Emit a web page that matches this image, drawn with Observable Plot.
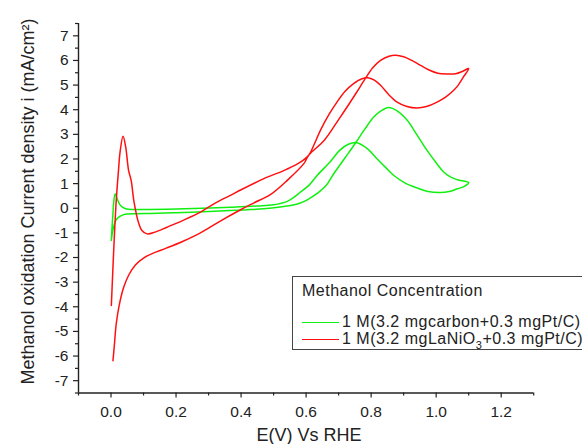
<!DOCTYPE html>
<html>
<head>
<meta charset="utf-8">
<script src="https://cdn.jsdelivr.net/npm/d3@7"></script>
<script src="https://cdn.jsdelivr.net/npm/@observablehq/plot@0.6"></script>
<style>
  html, body { margin: 0; padding: 0; background: #fff; overflow: hidden; }
  #wrap { position: relative; width: 582px; height: 444px; overflow: hidden; font-family: 'Liberation Sans', Arial, sans-serif; color: #222; }
  #legend { position: absolute; left: 292px; top: 276px; width: 330px; height: 72px; border: 1px solid #444; background: #fff; font-size: 16px; letter-spacing: 0.5px; }
  #legend .row { position: absolute; left: 9px; white-space: nowrap; line-height: 16px; }
  #legend .sw { display: inline-block; width: 37px; height: 0; vertical-align: 4px; margin-right: 3px; }
  #legend sub { font-size: 11px; vertical-align: -5px; line-height: 0; }
</style>
</head>
<body>
<div id="wrap">
  <div id="chart"></div>
  <div id="legend"></div>
</div>
<script>
// Series names
const seriesNames = ["1 M(3.2 mgcarbon+0.3 mgPt/C)", "1 M(3.2 mgLaNiO3+0.3 mgPt/C)"];
const seriesColors = ["#10f010", "#ff1010"];
const legendTitle = "Methanol Concentration";
const xTitle = "E(V) Vs RHE";
const yTitle = "Methanol oxidation Current density i (mA/cm²)";

// Green (carbon) loop: potential E (V) and current density I (mA/cm2), in scan order
const E_green = [0.001,0.008,0.018,0.039,0.08,0.121,0.2,0.3,0.367,0.42,0.47,0.52,0.555,0.58,0.605,0.634,0.66,0.685,0.72,0.752,0.78,0.808,0.83,0.854,0.88,0.911,0.94,0.972,1.0,1.023,1.045,1.065,1.10,
  1.085,1.065,1.04,1.013,0.975,0.942,0.905,0.87,0.845,0.818,0.79,0.757,0.73,0.703,0.675,0.635,0.61,0.582,0.56,0.542,0.5,0.45,0.367,0.28,0.2,0.12,0.07,0.045,0.029,0.02,0.013,0.008,0.006,0.003,0.001];
const I_green = [-1.31,-0.75,-0.43,-0.26,-0.22,-0.21,-0.18,-0.13,-0.09,-0.06,-0.02,0.05,0.12,0.2,0.35,0.6,0.9,1.40,2.05,2.65,3.2,3.70,3.95,4.09,3.95,3.57,3.0,2.35,1.85,1.47,1.26,1.16,1.04,
  0.88,0.79,0.68,0.64,0.68,0.82,1.02,1.33,1.65,2.01,2.4,2.66,2.6,2.35,1.9,1.35,0.95,0.65,0.42,0.28,0.14,0.09,0.04,0.0,-0.03,-0.05,-0.05,-0.02,0.11,0.35,0.59,0.2,-0.22,-0.8,-1.31];

// Red (LaNiO3) scan
const E_red = [0.006,0.010,0.016,0.025,0.039,0.055,0.075,0.10,0.13,0.17,0.22,0.275,0.336,0.40,0.44,0.49,0.542,0.593,0.608,0.656,0.70,0.726,0.755,0.782,0.805,0.829,0.855,0.875,0.90,0.925,0.952,0.98,1.005,1.034,1.06,1.08,1.10,
  1.085,1.068,1.054,1.03,1.003,0.97,0.942,0.91,0.88,0.855,0.829,0.81,0.793,0.77,0.746,0.72,0.695,0.67,0.644,0.625,0.608,0.58,0.54,0.47,0.40,0.367,0.336,0.30,0.275,0.22,0.172,0.135,0.111,0.095,0.085,0.08,0.07,0.062,0.054,0.045,0.037,0.028,0.023,0.016,0.009,0.005,0.001];
const I_red = [-6.19,-5.6,-4.7,-3.95,-3.21,-2.7,-2.3,-2.02,-1.82,-1.62,-1.35,-1.0,-0.52,-0.05,0.22,0.55,1.13,1.81,2.15,2.76,3.6,4.11,4.7,5.26,5.7,6.0,6.17,6.21,6.15,6.0,5.80,5.6,5.48,5.45,5.46,5.55,5.67,
  5.35,5.0,4.79,4.52,4.31,4.13,4.07,4.13,4.31,4.6,4.99,5.2,5.29,5.25,5.06,4.75,4.31,3.8,3.16,2.6,2.15,1.85,1.58,1.2,0.75,0.52,0.32,0.05,-0.16,-0.5,-0.77,-0.97,-1.04,-0.90,-0.6,-0.36,0.32,1.13,1.54,2.5,2.92,2.3,1.54,0.3,-1.5,-2.7,-3.95];

// Ticks
const xMajor = [0, 0.2, 0.4, 0.6, 0.8, 1.0, 1.2];
const xMinor = [-0.1, 0.1, 0.3, 0.5, 0.7, 0.9, 1.1, 1.3];
const yMajor = [-7, -6, -5, -4, -3, -2, -1, 0, 1, 2, 3, 4, 5, 6, 7];
const yMinor = [-7.5, -6.5, -5.5, -4.5, -3.5, -2.5, -1.5, -0.5, 0.5, 1.5, 2.5, 3.5, 4.5, 5.5, 6.5, 7.5];
const xDomain = [-0.1, 1.3];
const yDomain = [-7.5, 7.5];

const green = E_green.map((e, i) => ({E: e, I: I_green[i]}));
const red = E_red.map((e, i) => ({E: e, I: I_red[i]}));

const axisColor = "#222";
const plot = Plot.plot({
  width: 582,
  height: 444,
  marginLeft: 78,
  marginRight: 48.8,
  marginTop: 23,
  marginBottom: 51.5,
  x: {domain: xDomain, label: null},
  y: {domain: yDomain, label: null},
  style: {fontFamily: "'Liberation Sans', Arial, sans-serif", background: "white", color: axisColor, overflow: "visible"},
  marks: [
    Plot.line(green, {x: "E", y: "I", stroke: seriesColors[0], strokeWidth: 1.5, curve: "catmull-rom"}),
    Plot.line(red, {x: "E", y: "I", stroke: seriesColors[1], strokeWidth: 1.5, curve: "catmull-rom"}),
    Plot.ruleX([xDomain[0]], {stroke: axisColor, strokeWidth: 1.4}),
    Plot.ruleY([yDomain[0]], {stroke: axisColor, strokeWidth: 1.4}),
    Plot.axisX({ticks: xMajor, tickSize: 5, tickPadding: 7.5, tickFormat: d3.format(".1f"), fontSize: 15.5, label: null, stroke: axisColor, strokeWidth: 1.2}),
    Plot.axisX({ticks: xMinor, tickSize: 3, tickFormat: () => "", label: null, stroke: axisColor, strokeWidth: 1.2}),
    Plot.axisY({ticks: yMajor, tickSize: 5, tickPadding: 5, tickFormat: d => String(d), fontSize: 15.5, label: null, stroke: axisColor, strokeWidth: 1.2}),
    Plot.axisY({ticks: yMinor, tickSize: 3, tickFormat: () => "", label: null, stroke: axisColor, strokeWidth: 1.2}),
    Plot.text([xTitle], {frameAnchor: "bottom", text: d => d, textAnchor: "middle", dx: 3, dy: 47.5, lineAnchor: "bottom", fontSize: 18, fill: axisColor}),
    Plot.text([yTitle], {frameAnchor: "left", text: d => d, textAnchor: "middle", rotate: -90, dx: -44.5, dy: -6.75, lineAnchor: "bottom", fontSize: 18, fill: axisColor})
  ]
});
document.getElementById("chart").appendChild(plot);

// Legend
const legend = document.getElementById("legend");
const title = document.createElement("div");
title.className = "row";
title.style.top = "6px";
title.textContent = legendTitle;
legend.appendChild(title);
const labelsHtml = [seriesNames[0], seriesNames[1].replace("LaNiO3", "LaNiO<sub>3</sub>")];
[37, 54].forEach((top, i) => {
  const row = document.createElement("div");
  row.className = "row";
  row.style.top = top + "px";
  const sw = document.createElement("span");
  sw.className = "sw";
  sw.style.borderTop = "1.5px solid " + seriesColors[i];
  row.appendChild(sw);
  const t = document.createElement("span");
  t.innerHTML = labelsHtml[i];
  row.appendChild(t);
  legend.appendChild(row);
});
</script>
</body>
</html>
